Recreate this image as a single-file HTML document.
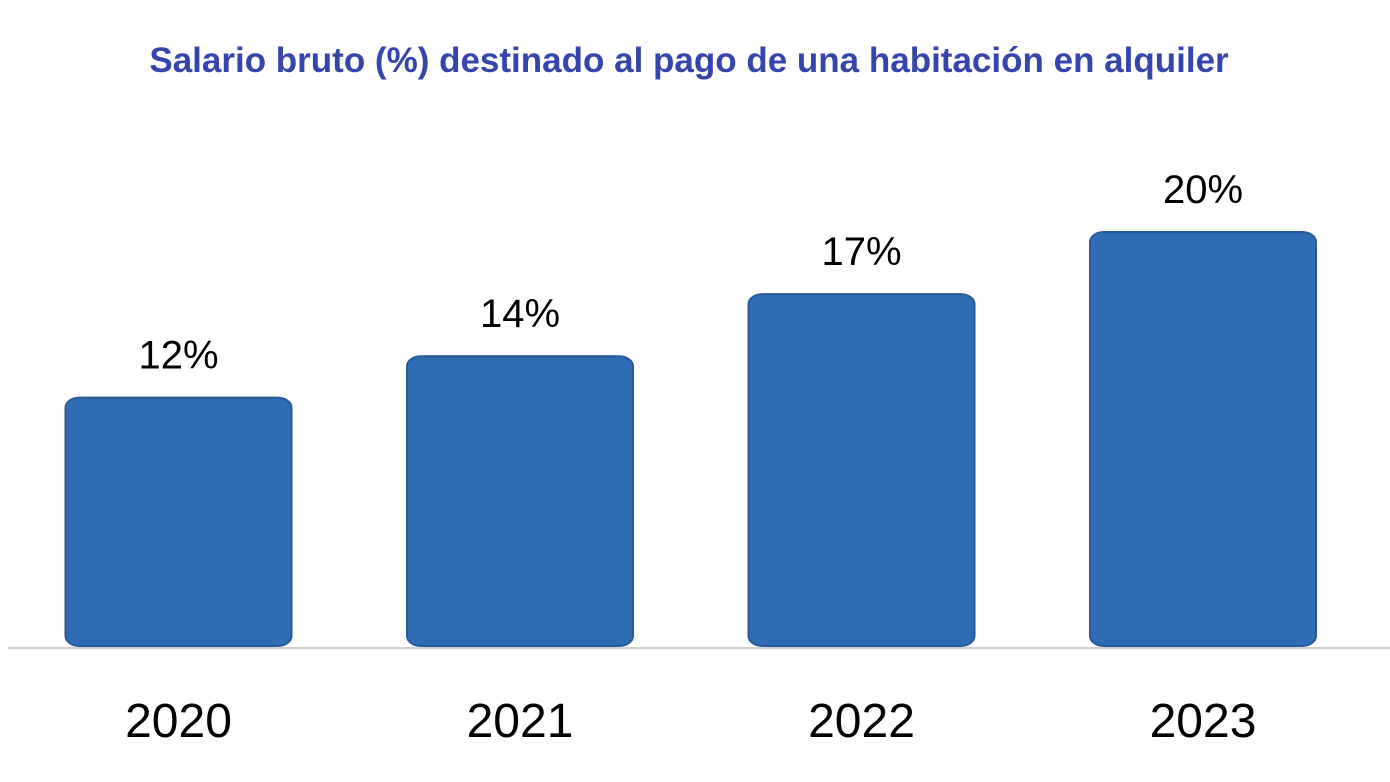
<!DOCTYPE html>
<html><head><meta charset="utf-8"><style>
body{margin:0;background:#fff;}
svg{display:block;font-family:"Liberation Sans",sans-serif;}
</style></head><body>
<svg width="1390" height="782">
<text x="689" y="72" text-anchor="middle" font-size="35" font-weight="bold" fill="#3545ad">Salario bruto (%) destinado al pago de una habitación en alquiler</text>
<line x1="8" y1="648" x2="1390" y2="648" stroke="#d0d0d0" stroke-width="2"/>
<g id="bars"></g>
</svg>
<script>
const categories=["2020","2021","2022","2023"];
const values=[12,14,17,20];
const labels=["12%","14%","17%","20%"];
const base=646, pxPer=20.7, offset=0;
function y(v){return base-v*pxPer+offset;}
function xc(i){return 178.5+i*341.5;}
const g=document.getElementById('bars');
const ns="http://www.w3.org/2000/svg";
categories.forEach((c,i)=>{
  const top=y(values[i]);
  const r=document.createElementNS(ns,'rect');
  
  
  r.setAttribute('x',xc(i)-113);r.setAttribute('y',top);
  r.setAttribute('width',226);r.setAttribute('height',base-top);
  r.setAttribute('rx',14);r.setAttribute('ry',10);
  r.setAttribute('fill','#2f6cb4');r.setAttribute('stroke','#27599a');r.setAttribute('stroke-width','2');
  g.appendChild(r);
  const t=document.createElementNS(ns,'text');
  
  
  t.setAttribute('x',xc(i));t.setAttribute('y',top-29);
  t.setAttribute('text-anchor','middle');t.setAttribute('font-size','40');t.setAttribute('fill','#000');
  t.textContent=labels[i];g.appendChild(t);
  const a=document.createElementNS(ns,'text');
  
  
  a.setAttribute('x',xc(i));a.setAttribute('y',737);
  a.setAttribute('text-anchor','middle');a.setAttribute('font-size','48');a.setAttribute('fill','#000');
  a.textContent=c;g.appendChild(a);
});
</script>
</body></html>
